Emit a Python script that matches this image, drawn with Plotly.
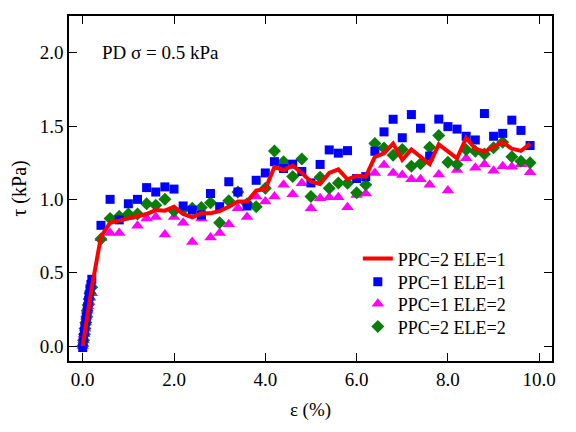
import plotly.graph_objects as go

# strain (%) at which the shear stress was recorded
strain = [0.2, 0.4, 0.6, 0.8, 1.0, 1.2, 1.4, 1.6, 1.8, 2.0,
          2.2, 2.4, 2.6, 2.8, 3.0, 3.2, 3.4, 3.6, 3.8, 4.0,
          4.2, 4.4, 4.6, 4.8, 5.0, 5.2, 5.4, 5.6, 5.8, 6.0,
          6.2, 6.4, 6.6, 6.8, 7.0, 7.2, 7.4, 7.6, 7.8, 8.0,
          8.2, 8.4, 8.6, 8.8, 9.0, 9.2, 9.4, 9.6, 9.8]

# early (elastic) part, densely sampled
blue_init_x = [0.0, 0.01, 0.02, 0.04, 0.05, 0.07, 0.08, 0.1, 0.11, 0.13, 0.14, 0.16, 0.18]
blue_init_y = [-0.01, 0.03, 0.06, 0.1, 0.13, 0.17, 0.2, 0.24, 0.27, 0.31, 0.35, 0.39, 0.42]
mag_init_x = [0.0, 0.02, 0.03, 0.05, 0.07, 0.08, 0.1, 0.12, 0.14, 0.16]
mag_init_y = [0.0, 0.04, 0.08, 0.12, 0.16, 0.2, 0.24, 0.27, 0.3, 0.33]
green_init_x = [0.0, 0.02, 0.04, 0.05, 0.07, 0.09, 0.1, 0.12, 0.14, 0.16]
green_init_y = [0.0, 0.04, 0.08, 0.12, 0.16, 0.2, 0.24, 0.28, 0.32, 0.36]
red_init_x = [0.0]
red_init_y = [0.0]

# PPC=2 ELE=1
tau_ppc2_ele1 = [0.40, 0.745, 0.84, 0.855, 0.87, 0.886, 0.90, 0.927, 0.923, 0.95,
                 0.90, 0.877, 0.905, 0.905, 0.92, 0.95, 0.985, 0.985, 1.06, 1.07,
                 1.22, 1.20, 1.23, 1.18, 1.12, 1.105, 1.18, 1.205, 1.137, 1.16,
                 1.155, 1.29, 1.314, 1.38, 1.27, 1.34, 1.29, 1.24, 1.375, 1.33,
                 1.28, 1.418, 1.345, 1.325, 1.357, 1.39, 1.345, 1.33, 1.38]
# PPC=1 ELE=1
tau_ppc1_ele1 = [0.455, 0.823, 1.0, 0.86, 0.97, 1.0, 1.08, 1.05, 1.085, 1.07,
                 0.955, 0.927, 0.894, 1.04, 0.95, 1.12, 1.05, 0.955, 1.13, 1.18,
                 1.257, 1.21, 1.24, 1.19, 1.112, 1.238, 1.337, 1.315, 1.332, 1.142,
                 1.155, 1.328, 1.46, 1.546, 1.42, 1.578, 1.485, 1.295, 1.547, 1.496,
                 1.479, 1.43, 1.405, 1.585, 1.43, 1.45, 1.54, 1.47, 1.367]
# PPC=1 ELE=2
tau_ppc1_ele2 = [0.36, 0.734, 0.77, 0.77, 0.88, 0.82, 0.87, 0.88, 0.76, 0.88,
                 0.84, 0.71, 0.87, 0.74, 0.77, 0.83, 0.94, 0.88, 1.02, 0.985,
                 1.02, 1.10, 1.035, 1.11, 0.94, 1.007, 1.014, 1.014, 0.946, 1.03,
                 1.04, 1.18, 1.235, 1.18, 1.166, 1.137, 1.137, 1.10, 1.17, 1.06,
                 1.20, 1.28, 1.215, 1.24, 1.195, 1.225, 1.222, 1.24, 1.185]
# PPC=2 ELE=2
tau_ppc2_ele2 = [0.40, 0.73, 0.87, 0.885, 0.90, 0.90, 0.97, 0.96, 1.0, 0.92,
                 0.93, 0.94, 0.945, 0.977, 0.84, 0.99, 1.05, 0.97, 0.95, 1.075,
                 1.33, 1.257, 1.155, 1.275, 1.02, 1.15, 1.075, 1.112, 1.11, 1.045,
                 1.10, 1.38, 1.35, 1.30, 1.34, 1.225, 1.243, 1.355, 1.435, 1.253,
                 1.238, 1.338, 1.328, 1.31, 1.352, 1.39, 1.29, 1.26, 1.25]

xticks = [0, 2, 4, 6, 8, 10]
yticks = [0.0, 0.5, 1.0, 1.5, 2.0]

FONT = "Liberation Serif"

fig = go.Figure()

fig.add_trace(go.Scatter(
    x=mag_init_x + strain, y=mag_init_y + tau_ppc1_ele2,
    mode='markers', name='PPC=1 ELE=2', legend='legend3',
    marker=dict(symbol='triangle-up', size=11, color='#ff00ff')
))
fig.add_trace(go.Scatter(
    x=green_init_x + strain, y=green_init_y + tau_ppc2_ele2,
    mode='markers', name='PPC=2 ELE=2', legend='legend4',
    marker=dict(symbol='diamond', size=10, color='#0a7d0a')
))
fig.add_trace(go.Scatter(
    x=blue_init_x + strain, y=blue_init_y + tau_ppc1_ele1,
    mode='markers', name='PPC=1 ELE=1', legend='legend2',
    marker=dict(symbol='square', size=9, color='#0000ff')
))
fig.add_trace(go.Scatter(
    x=red_init_x + strain, y=red_init_y + tau_ppc2_ele1,
    mode='lines', name='PPC=2 ELE=1', legend='legend',
    line=dict(color='#ff0000', width=4)
))

axis_style = dict(
    showline=True, linecolor='black', linewidth=1.5, mirror='ticks',
    ticks='inside', ticklen=8, tickwidth=1.2, tickcolor='black',
    showgrid=False, zeroline=False, tickformat='.1f', automargin=False,
    tickfont=dict(family=FONT, size=19, color='black'),
)

fig.update_xaxes(range=[-0.3, 10.28], tickvals=xticks,
                 title=dict(text='ε (%)', font=dict(family=FONT, size=19, color='black'),
                            standoff=14),
                 **axis_style)
fig.update_yaxes(range=[-0.102, 2.25], tickvals=yticks,
                 title=dict(text='τ (kPa)', font=dict(family=FONT, size=20, color='black'),
                            standoff=14),
                 **axis_style)

fig.add_annotation(x=0.38, y=2.0, xref='x', yref='y', xanchor='left',
                   text='PD σ = 0.5 kPa', showarrow=False,
                   font=dict(family=FONT, size=19, color='black'))

leg = dict(x=0.598, xanchor='left', yanchor='middle',
           bgcolor='rgba(0,0,0,0)', font=dict(family=FONT, size=18, color='black'))

# page body adds 8px offset, so margins are shifted to compensate
fig.update_layout(
    width=576, height=432,
    margin=dict(l=61, r=32, t=8, b=79),
    plot_bgcolor='white', paper_bgcolor='white',
    font=dict(family=FONT, size=18, color='black'),
    showlegend=True,
    legend=dict(y=0.296, **leg),
    legend2=dict(y=0.229, **leg),
    legend3=dict(y=0.165, **leg),
    legend4=dict(y=0.099, **leg),
)

fig.write_html("out.html")
